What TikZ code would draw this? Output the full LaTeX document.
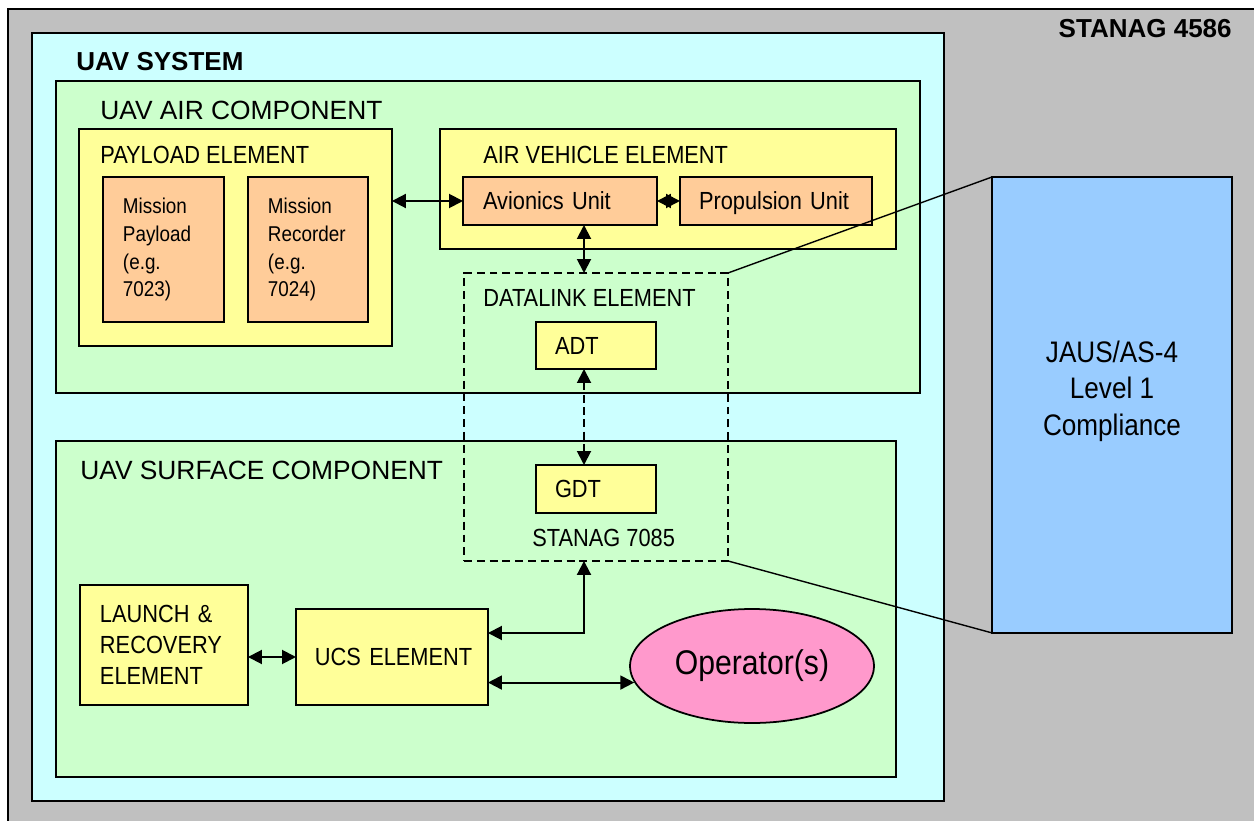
\documentclass[tikz,border=0pt]{standalone}
\usepackage{fontspec}
\setmainfont{Liberation Sans}
\newfontfamily\narrowfont{Liberation Sans}[FakeStretch=0.88]
\usetikzlibrary{arrows.meta,shapes.geometric}

\definecolor{framec}{HTML}{C0C0C0}
\definecolor{sysc}{HTML}{CCFFFF}
\definecolor{compc}{HTML}{CCFFCC}
\definecolor{elemc}{HTML}{FFFF99}
\definecolor{unitc}{HTML}{FFCC99}
\definecolor{jausc}{HTML}{99CCFF}
\definecolor{operc}{HTML}{FF99CC}

\tikzset{
  box/.style={draw, line width=1pt, anchor=north west, inner sep=0pt, outer sep=0pt},
  txtbox/.style={box, align=left, inner xsep=0.4cm, font=\narrowfont\fontsize{14.1}{16.5}\selectfont},
  oneline/.style={text height=10pt, text depth=0.2pt},
  head/.style={anchor=base west, inner sep=0pt, font=\fontsize{15}{18}\selectfont},
  boldhead/.style={inner sep=0pt, font=\bfseries\fontsize{14.8}{18}\selectfont},
  lbl/.style={anchor=base west, inner sep=0pt, font=\narrowfont\fontsize{14.1}{16.5}\selectfont},
  link/.style={line width=1.1pt, {Triangle[length=0.28cm,width=0.28cm]}-{Triangle[length=0.28cm,width=0.28cm]}},
}

\begin{document}
\begin{tikzpicture}[x=0.02cm, y=-0.02cm]
\path[use as bounding box, fill=white] (0,0) rectangle (1254,821);

\node[box, fill=framec, minimum width=25.2cm, minimum height=16.4cm] (frame) at (8,9) {};
\node[boldhead, anchor=base east] (stanag4586) at (1232,38) {STANAG 4586};

\node[box, fill=sysc, minimum width=18.24cm, minimum height=15.36cm] (sys) at (32,33) {};
\node[boldhead, anchor=base west] (syslbl) at (76,71) {UAV SYSTEM};

% air side
\node[box, fill=compc, minimum width=17.28cm, minimum height=6.24cm] (air) at (56,81) {};
\node[head] (airlbl) at (100,119) {UAV AIR COMPONENT};
\node[box, fill=elemc, minimum width=6.26cm, minimum height=4.34cm] (payload) at (79,129) {};
\node[lbl] (payloadlbl) at (100,163) {PAYLOAD ELEMENT};
\node[txtbox, fill=unitc, minimum width=2.42cm, text width=1.62cm, minimum height=2.9cm,
      font=\narrowfont\fontsize{12.2}{15.9}\selectfont] (mpayload) at (103,177) {Mission\\Payload\\(e.g.\\7023)};
\node[txtbox, fill=unitc, minimum width=2.4cm, text width=1.6cm, minimum height=2.9cm,
      font=\narrowfont\fontsize{12.2}{15.9}\selectfont] (mrecorder) at (248,177) {Mission\\Recorder\\(e.g.\\7024)};
\node[box, fill=elemc, minimum width=9.12cm, minimum height=2.4cm] (vehicle) at (440,129) {};
\node[lbl] (vehiclelbl) at (483,163) {AIR VEHICLE ELEMENT};
\node[txtbox, oneline, fill=unitc, minimum width=3.88cm, text width=3.08cm, minimum height=0.96cm] (avionics) at (463,177) {\mbox{Avionics Unit}};
\node[txtbox, oneline, fill=unitc, minimum width=3.84cm, inner xsep=0.38cm, text width=3.08cm, minimum height=0.96cm] (propulsion) at (680,177) {\mbox{Propulsion Unit}};

% surface side
\node[box, fill=compc, minimum width=16.8cm, minimum height=6.72cm] (surface) at (56,441) {};
\node[head] (surfacelbl) at (80,479) {UAV SURFACE COMPONENT};
\node[txtbox, fill=elemc, minimum width=3.36cm, text width=2.56cm, minimum height=2.4cm,
      font=\narrowfont\fontsize{14.1}{17.6}\selectfont] (launch) at (80,585) {LAUNCH \&\\RECOVERY\\ELEMENT\\[-4pt]};
\node[txtbox, oneline, fill=elemc, minimum width=3.84cm, inner xsep=0.38cm, text width=3.08cm, minimum height=1.92cm] (ucs) at (296,609) {\mbox{UCS ELEMENT}};
\node[ellipse, draw, line width=1pt, fill=operc, minimum width=4.88cm, minimum height=2.28cm, inner sep=0pt,
      font=\narrowfont\fontsize{19.5}{23}\selectfont] (operator) at (752,666) {Operator(s)};

% datalink
\node[box, line width=0.9pt, dash pattern=on 4.5pt off 2.8pt, minimum width=5.28cm, minimum height=5.76cm] (datalink) at (464,273) {};
\node[lbl] (datalinklbl) at (483,306) {DATALINK ELEMENT};
\node[txtbox, oneline, fill=elemc, minimum width=2.4cm, inner xsep=0.38cm, text width=1.64cm, minimum height=0.94cm] (adt) at (536,322) {ADT};
\node[txtbox, oneline, fill=elemc, minimum width=2.4cm, inner xsep=0.38cm, text width=1.64cm, minimum height=0.96cm] (gdt) at (536,465) {GDT};
\node[lbl] (stanag7085) at (532,546) {STANAG 7085};

\node[box, fill=jausc, minimum width=4.8cm, minimum height=9.12cm] (jaus) at (992,177) {};
\node[align=center, inner sep=0pt, font=\narrowfont\fontsize{16.9}{20.8}\selectfont] (jauslbl) at (1112,391) {JAUS/AS-4\\Level 1\\Compliance};

\coordinate (dlx) at (584,0);

\draw[link] (payload.east |- avionics.west) -- (avionics.west);
\draw[link] (avionics.east) -- (propulsion.west);
\draw[link] (avionics.south -| dlx) -- (datalink.north -| dlx);
\draw[link, dash pattern=on 4.5pt off 2.5pt] (adt.south -| dlx) -- (gdt.north -| dlx);
\draw[link] ([yshift=0.48cm]ucs.east) -| (datalink.south -| dlx);
\draw[link] (launch.east |- ucs.west) -- (ucs.west);
\draw[link] (operator.188) -- (operator.188 -| ucs.east);

\draw[line width=0.8pt] (datalink.north east) -- (jaus.north west);
\draw[line width=0.8pt] (datalink.south east) -- (jaus.south west);
\end{tikzpicture}
\end{document}
